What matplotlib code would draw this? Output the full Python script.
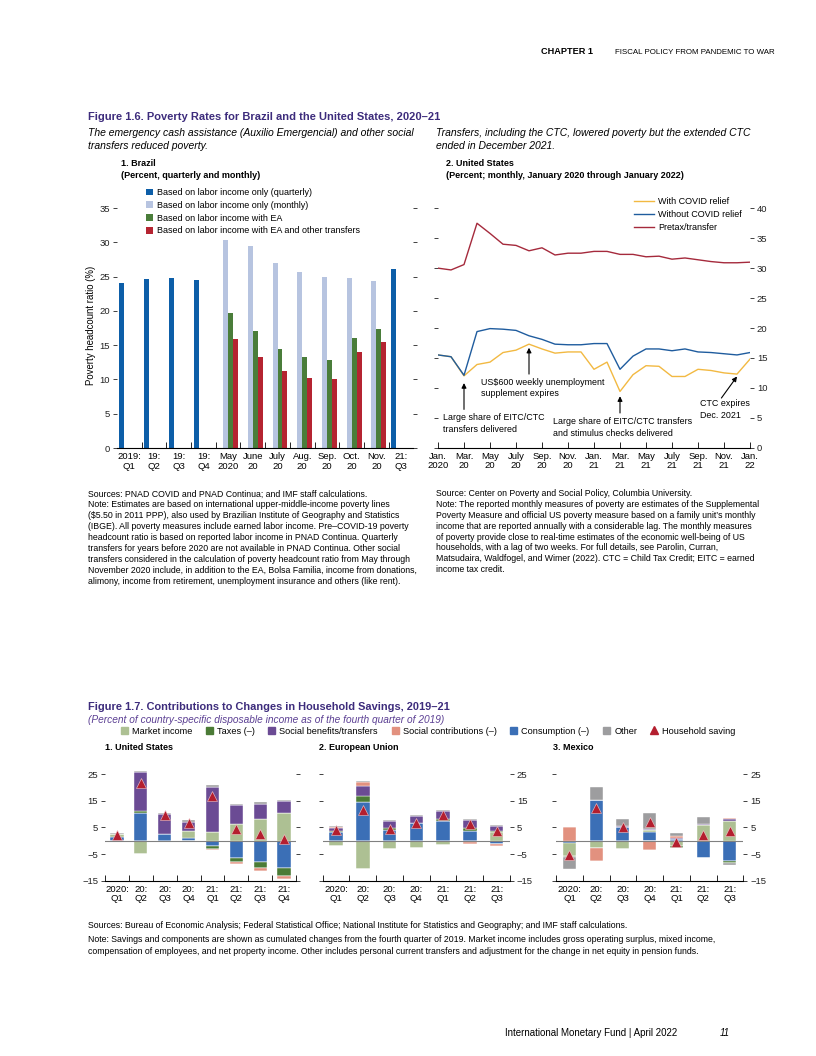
import matplotlib
matplotlib.use("Agg")
import matplotlib.pyplot as plt
import numpy as np
from matplotlib.patches import Patch
from matplotlib.lines import Line2D

plt.rcParams['font.family'] = ['Liberation Sans', 'DejaVu Sans']

W, H = 816, 1056
nan = np.nan

# Figure 1.6 panel 1: Brazil
br_labels = ["2019:\nQ1", "19:\nQ2", "19:\nQ3", "19:\nQ4", "May\n2020", "June\n20", "July\n20",
             "Aug.\n20", "Sep.\n20", "Oct.\n20", "Nov.\n20", "21:\nQ3"]
br_quarterly = [24.0, 24.6, 24.8, 24.5, nan, nan, nan, nan, nan, nan, nan, 26.1]
br_monthly = [nan, nan, nan, nan, 30.4, 29.4, 27.0, 25.7, 25.0, 24.8, 24.4, nan]
br_with_ea = [nan, nan, nan, nan, 19.7, 17.1, 14.5, 13.3, 12.9, 16.1, 17.3, nan]
br_with_ea_other = [nan, nan, nan, nan, 15.9, 13.2, 11.2, 10.2, 10.1, 14.0, 15.5, nan]

# Figure 1.6 panel 2: United States, Jan 2020 - Jan 2022
us_month_labels = ["Jan.\n2020", "Mar.\n20", "May\n20", "July\n20", "Sep.\n20", "Nov.\n20", "Jan.\n21",
                   "Mar.\n21", "May\n21", "July\n21", "Sep.\n21", "Nov.\n21", "Jan.\n22"]
us_with_relief = [15.5, 15.2, 12.0, 13.9, 14.3, 15.9, 16.3, 17.3, 16.5, 15.8, 16.0, 16.0, 13.1,
                  14.3, 9.4, 12.2, 13.7, 13.6, 11.9, 11.9, 13.1, 12.9, 12.5, 12.3, 14.8]
us_without_relief = [15.5, 15.2, 12.1, 19.4, 19.9, 19.8, 19.6, 18.7, 18.1, 17.3, 17.2, 17.2, 17.4,
                     17.4, 13.1, 15.3, 16.5, 16.5, 16.2, 16.5, 16.0, 15.9, 15.7, 15.5, 15.9]
us_pretax = [30.0, 29.7, 30.6, 37.5, 35.8, 34.0, 33.8, 32.9, 33.4, 32.2, 32.5, 32.5, 32.8,
             32.8, 32.3, 32.3, 31.9, 32.0, 31.5, 31.7, 31.4, 31.1, 30.9, 30.9, 31.0]

# Figure 1.7: contributions to household savings
sav_labels_us = ["2020:\nQ1", "20:\nQ2", "20:\nQ3", "20:\nQ4", "21:\nQ1", "21:\nQ2", "21:\nQ3", "21:\nQ4"]
sav_labels_7 = sav_labels_us[:7]

us_market = [1.3, -4.8, -0.4, 2.6, 3.2, 6.1, 8.2, 10.2]
us_taxes = [-0.2, 0.9, 0.2, -0.1, -1.0, -1.6, -2.2, -3.0]
us_benefits = [0.1, 14.6, 7.3, 3.4, 17.1, 7.1, 5.7, 4.7]
us_contrib = [-0.3, -0.2, -0.1, -0.4, -0.6, -0.9, -1.1, -1.0]
us_consumption = [1.2, 10.2, 2.4, 1.1, -2.0, -6.4, -8.0, -10.2]
us_other = [0.3, 0.6, 0.4, 0.5, 0.5, 0.5, 0.5, 0.3]
us_saving = [2.2, 21.6, 9.6, 6.8, 16.8, 4.3, 2.6, 0.8]

eu_market = [-1.8, -10.5, -3.1, -2.6, -1.5, -0.6, 3.2]
eu_taxes = [0.7, 2.4, 0.8, 0.3, 0.9, 0.9, 0.4]
eu_benefits = [1.0, 3.6, 2.3, 2.4, 2.9, 3.1, 1.9]
eu_contrib = [0.5, 1.6, 0.1, 0.1, 0.1, -0.6, -0.6]
eu_consumption = [3.1, 14.5, 4.1, 6.5, 7.3, 3.8, -1.2]
eu_other = [0.3, 0.2, 0.3, 0.3, 0.3, 0.2, 0.2]
eu_saving = [4.0, 11.5, 4.3, 6.8, 9.6, 6.4, 3.6]

mx_market = [-5.0, -2.9, -3.0, 0.8, -2.0, 5.9, 7.4]
mx_taxes = [-0.3, 0.0, 0.0, 0.0, -0.7, 0.0, -0.7]
mx_benefits = [0.0, 0.0, 0.2, 0.4, 0.6, 0.4, 0.6]
mx_contrib = [5.3, -4.6, -0.2, -3.5, 0.6, 0.0, 0.4]
mx_consumption = [-0.8, 15.2, 5.2, 3.3, 0.5, -6.3, -7.6]
mx_other = [-4.4, 4.8, 2.7, 5.8, 1.0, 2.5, -0.7]
mx_saving = [-5.4, 12.4, 5.0, 6.9, -0.4, 2.1, 3.7]

comp_names = ["Market income", "Taxes (\u2013)", "Social benefits/transfers", "Social contributions (\u2013)",
              "Consumption (\u2013)", "Other"]
comp_colors = {"Market income": "#adc093", "Taxes (\u2013)": "#4b7b36", "Social benefits/transfers": "#6b4b94",
               "Social contributions (\u2013)": "#e2917f", "Consumption (\u2013)": "#3b6fb6", "Other": "#9d9d9f"}
stack_order = ["Consumption (\u2013)", "Market income", "Taxes (\u2013)", "Social benefits/transfers",
               "Social contributions (\u2013)", "Other"]

TITLE = "#3d2c7c"
RED = "#b41f2f"
TICK = 6.8
NOTE = 6.3
fig = plt.figure(figsize=(W / 100, H / 100), dpi=100)


def px_axes(left, top, right, bottom):
    return fig.add_axes([left / W, 1 - bottom / H, (right - left) / W, (bottom - top) / H])


def ftext(x, y, s, **kw):
    kw.setdefault('va', 'center')
    kw.setdefault('fontsize', 7)
    fig.text(x / W, 1 - y / H, s, **kw)


def flines(x, y0, dy, lines, **kw):
    for i, ln in enumerate(lines):
        ftext(x, y0 + i * dy, ln, **kw)


def style_axes(ax):
    for s in ['top', 'left', 'right']:
        ax.spines[s].set_visible(False)
    ax.spines['bottom'].set_linewidth(0.8)
    ax.tick_params(axis='y', length=3, width=0.6, labelsize=TICK, pad=2, colors='#222222')
    ax.tick_params(axis='x', which='both', labelsize=TICK, pad=3)


# header
ftext(541, 52, "CHAPTER 1", fontsize=6.6, fontweight='bold')
ftext(615, 52, "FISCAL POLICY FROM PANDEMIC TO WAR", fontsize=5.7)

# ---------------- Figure 1.6 ----------------
ftext(88, 117, "Figure 1.6. Poverty Rates for Brazil and the United States, 2020\u201321",
      fontsize=8.0, fontweight='bold', color=TITLE)
flines(88, 133, 13, ["The emergency cash assistance (Auxilio Emergencial) and other social",
                     "transfers reduced poverty."], fontsize=7.45, style='italic')
flines(436, 133, 13, ["Transfers, including the CTC, lowered poverty but the extended CTC",
                      "ended in December 2021."], fontsize=7.45, style='italic')
ftext(121, 164, "1. Brazil", fontsize=6.5, fontweight='bold')
ftext(121, 176, "(Percent, quarterly and monthly)", fontsize=6.5, fontweight='bold')
ftext(446, 164, "2. United States", fontsize=6.5, fontweight='bold')
ftext(446, 176, "(Percent; monthly, January 2020 through January 2022)", fontsize=6.5, fontweight='bold')

# Brazil bars
ax1 = px_axes(117, 448 - 38 * 6.857, 413.4, 448)
style_axes(ax1)
x = np.arange(len(br_labels))
bw = 0.2
ax1.bar(x - 0.3, br_quarterly, bw, color="#0d5ea8", label="Based on labor income only (quarterly)")
ax1.bar(x - 0.1, br_monthly, bw, color="#b7c4e0", label="Based on labor income only (monthly)")
ax1.bar(x + 0.1, br_with_ea, bw, color="#4a7d3a", label="Based on labor income with EA")
ax1.bar(x + 0.3, br_with_ea_other, bw, color="#b52431", label="Based on labor income with EA and other transfers")
ax1.set_xlim(-0.5, len(br_labels) - 0.5)
ax1.set_ylim(0, 38)
ax1.set_yticks(np.arange(0, 36, 5))
ax1.tick_params(axis='y', left=True, right=True, labelleft=True, labelright=False)
ax1.set_xticks(x)
ax1.set_xticklabels(br_labels, linespacing=1.05)
ax1.tick_params(axis='x', which='major', length=0)
ax1.set_xticks(np.arange(0.5, len(br_labels) - 1, 1), minor=True)
ax1.tick_params(axis='x', which='minor', direction='in', length=4, width=0.6)
ax1.legend(loc='upper left', bbox_to_anchor=(146 / W, 1 - 188 / H), bbox_transform=fig.transFigure,
           frameon=False, fontsize=6.5, handlelength=0.75, handleheight=0.75, labelspacing=0.42,
           handletextpad=0.45, borderpad=0, borderaxespad=0)
ftext(91, 325, "Poverty headcount ratio (%)", fontsize=6.9, rotation=90, ha='center')

# US lines
ax2 = px_axes(438, 447.7 - 43 * 5.985, 750, 447.7)
style_axes(ax2)
m = np.arange(len(us_pretax))
ax2.plot(m, us_with_relief, color="#f2b942", lw=1.0, label="With COVID relief")
ax2.plot(m, us_without_relief, color="#1f5c9e", lw=1.0, label="Without COVID relief")
ax2.plot(m, us_pretax, color="#a52a3c", lw=1.0, label="Pretax/transfer")
ax2.set_xlim(0, 24)
ax2.set_ylim(0, 43)
ax2.set_yticks(np.arange(0, 41, 5))
ax2.tick_params(axis='y', left=True, right=True, labelleft=False, labelright=True)
ax2.set_xticks(np.arange(0, 25, 2))
ax2.set_xticklabels(us_month_labels, linespacing=1.05)
ax2.tick_params(axis='x', direction='in', length=4, width=0.6)
ax2.legend(loc='upper left', bbox_to_anchor=(634 / W, 1 - 197 / H), bbox_transform=fig.transFigure,
           frameon=False, fontsize=6.5, handlelength=2.2, labelspacing=0.45, handletextpad=0.5,
           borderpad=0, borderaxespad=0)
arr = dict(arrowstyle='-|>', color='black', lw=0.8, mutation_scale=7, shrinkA=0, shrinkB=0)
ax2.annotate('', xy=(2, 10.8), xytext=(2, 6.4), arrowprops=arr)
ax2.annotate('', xy=(7, 16.7), xytext=(7, 12.3), arrowprops=arr)
ax2.annotate('', xy=(14, 8.6), xytext=(14, 5.8), arrowprops=arr)
ax2.annotate('', xy=(23.0, 11.9), xytext=(21.8, 8.3), arrowprops=arr)
flines(443, 418, 12, ["Large share of EITC/CTC", "transfers delivered"], fontsize=6.4)
flines(481, 382, 12, ["US$600 weekly unemployment", "supplement expires"], fontsize=6.4)
flines(553, 422, 12, ["Large share of EITC/CTC transfers", "and stimulus checks delivered"], fontsize=6.4)
flines(700, 404, 12, ["CTC expires", "Dec. 2021"], fontsize=6.4)

note_l = ["Sources: PNAD COVID and PNAD Continua; and IMF staff calculations.",
          "Note: Estimates are based on international upper-middle-income poverty lines",
          "($5.50 in 2011 PPP), also used by Brazilian Institute of Geography and Statistics",
          "(IBGE). All poverty measures include earned labor income. Pre\u2013COVID-19 poverty",
          "headcount ratio is based on reported labor income in PNAD Continua. Quarterly",
          "transfers for years before 2020 are not available in PNAD Continua. Other social",
          "transfers considered in the calculation of poverty headcount ratio from May through",
          "November 2020 include, in addition to the EA, Bolsa Familia, income from donations,",
          "alimony, income from retirement, unemployment insurance and others (like rent)."]
note_r = ["Source: Center on Poverty and Social Policy, Columbia University.",
          "Note: The reported monthly measures of poverty are estimates of the Supplemental",
          "Poverty Measure and official US poverty measure based on a family unit\u2019s monthly",
          "income that are reported annually with a considerable lag. The monthly measures",
          "of poverty provide close to real-time estimates of the economic well-being of US",
          "households, with a lag of two weeks. For full details, see Parolin, Curran,",
          "Matsudaira, Waldfogel, and Wimer (2022). CTC = Child Tax Credit; EITC = earned",
          "income tax credit."]
flines(88, 494, 10.9, note_l, fontsize=NOTE)
flines(436, 494, 10.8, note_r, fontsize=NOTE)

# ---------------- Figure 1.7 ----------------
ftext(88, 707, "Figure 1.7. Contributions to Changes in Household Savings, 2019\u201321",
      fontsize=7.9, fontweight='bold', color=TITLE)
ftext(88, 720, "(Percent of country-specific disposable income as of the fourth quarter of 2019)",
      fontsize=7.3, style='italic', color="#5b3f93")

handles = [Patch(color=comp_colors[n]) for n in comp_names]
handles.append(Line2D([], [], marker='^', color=RED, ls='none', markersize=6))
fig.legend(handles, comp_names + ["Household saving"], loc='center', bbox_to_anchor=(428 / W, 1 - 731 / H),
           ncol=7, frameon=False, fontsize=6.6, handlelength=0.75, handleheight=0.75, handletextpad=0.45,
           columnspacing=1.5, borderpad=0)


def savings_panel(ax, labels, comps, saving, width, labelleft):
    style_axes(ax)
    xs = np.arange(len(labels))
    pos = np.zeros(len(labels))
    neg = np.zeros(len(labels))
    for name in stack_order:
        vals = np.array(comps[name])
        p = np.where(vals > 0, vals, 0)
        n = np.where(vals < 0, vals, 0)
        ax.bar(xs, p, width, bottom=pos, color=comp_colors[name], edgecolor='white', linewidth=0.3)
        ax.bar(xs, n, width, bottom=neg, color=comp_colors[name], edgecolor='white', linewidth=0.3)
        pos += p
        neg += n
    ax.axhline(0, color='#808080', lw=0.8, zorder=3)
    ax.plot(xs, saving, ls='none', marker='^', color=RED, markersize=7, markeredgecolor='#f3c9cc',
            markeredgewidth=0.4, zorder=4)
    ax.set_xlim(-0.5, len(labels) - 0.5)
    ax.set_ylim(-15, 30)
    ax.set_yticks([-15, -5, 5, 15, 25])
    ax.tick_params(axis='y', left=True, right=True, labelleft=labelleft, labelright=not labelleft)
    ax.set_xticks(xs)
    ax.set_xticklabels(labels, linespacing=1.05)
    ax.tick_params(axis='x', which='major', length=0)
    ax.set_xticks(np.arange(-0.5, len(labels), 1), minor=True)
    ax.tick_params(axis='x', which='minor', direction='in', length=4, width=0.6)


ftext(105, 747, "1. United States", fontsize=6.5, fontweight='bold')
ftext(319, 747, "2. European Union", fontsize=6.5, fontweight='bold')
ftext(553, 747, "3. Mexico", fontsize=6.5, fontweight='bold')

y_top = 840.7 - 30 * 2.667
y_bot = 840.7 + 15 * 2.667
ax3 = px_axes(105, y_top, 296, y_bot)
savings_panel(ax3, sav_labels_us,
              dict(zip(comp_names, [us_market, us_taxes, us_benefits, us_contrib, us_consumption, us_other])),
              us_saving, 0.56, True)
ax4 = px_axes(322.7, y_top, 510, y_bot)
savings_panel(ax4, sav_labels_7,
              dict(zip(comp_names, [eu_market, eu_taxes, eu_benefits, eu_contrib, eu_consumption, eu_other])),
              eu_saving, 0.5, False)
ax5 = px_axes(556, y_top, 743.3, y_bot)
savings_panel(ax5, sav_labels_7,
              dict(zip(comp_names, [mx_market, mx_taxes, mx_benefits, mx_contrib, mx_consumption, mx_other])),
              mx_saving, 0.48, False)

flines(88, 926, 13, ["Sources: Bureau of Economic Analysis; Federal Statistical Office; National Institute for Statistics and Geography; and IMF staff calculations."], fontsize=NOTE)
flines(88, 939, 12, ["Note: Savings and components are shown as cumulated changes from the fourth quarter of 2019. Market income includes gross operating surplus, mixed income,",
                     "compensation of employees, and net property income. Other includes personal current transfers and adjustment for the change in net equity in pension funds."],
       fontsize=NOTE)

# footer
ftext(505, 1033, "International Monetary Fund | April 2022", fontsize=7.0)
ftext(720, 1033, "11", fontsize=7.0, style='italic')

fig.savefig("out.png", dpi=100)
